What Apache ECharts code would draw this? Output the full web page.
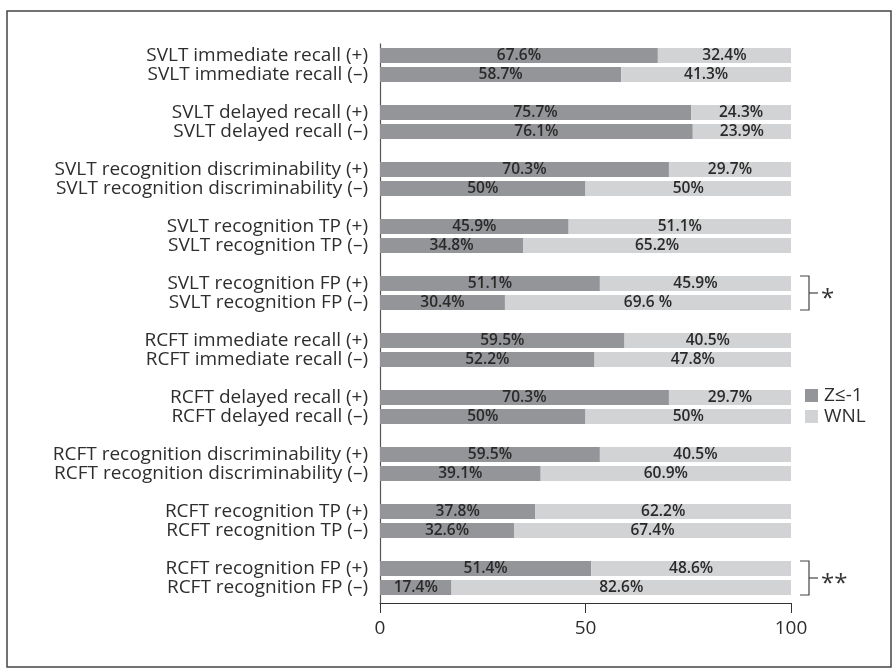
<!DOCTYPE html>
<html>
<head>
<meta charset="utf-8">
<script src="https://cdn.jsdelivr.net/npm/echarts@6/dist/echarts.min.js"></script>
<style>html,body{margin:0;padding:0;background:#fff}#c{width:893px;height:672px}</style>
</head>
<body>
<div id="c"></div>
<script>
const categories = [
  'SVLT immediate recall (+)', 'SVLT immediate recall (–)',
  'SVLT delayed recall (+)', 'SVLT delayed recall (–)',
  'SVLT recognition discriminability (+)', 'SVLT recognition discriminability (–)',
  'SVLT recognition TP (+)', 'SVLT recognition TP (–)',
  'SVLT recognition FP (+)', 'SVLT recognition FP (–)',
  'RCFT immediate recall (+)', 'RCFT immediate recall (–)',
  'RCFT delayed recall (+)', 'RCFT delayed recall (–)',
  'RCFT recognition discriminability (+)', 'RCFT recognition discriminability (–)',
  'RCFT recognition TP (+)', 'RCFT recognition TP (–)',
  'RCFT recognition FP (+)', 'RCFT recognition FP (–)'
];
const darkValues  = [67.6, 58.7, 75.7, 76.1, 70.3, 50, 45.9, 34.8, 53.5, 30.4, 59.5, 52.2, 70.3, 50, 53.5, 39.1, 37.8, 32.6, 51.4, 17.4];
const lightValues = [32.4, 41.3, 24.3, 23.9, 29.7, 50, 54.1, 65.2, 46.5, 69.6, 40.5, 47.8, 29.7, 50, 46.5, 60.9, 62.2, 67.4, 48.6, 82.6];
const darkLabels  = ['67.6%','58.7%','75.7%','76.1%','70.3%','50%','45.9%','34.8%','51.1%','30.4%','59.5%','52.2%','70.3%','50%','59.5%','39.1%','37.8%','32.6%','51.4%','17.4%'];
const lightLabels = ['32.4%','41.3%','24.3%','23.9%','29.7%','50%','51.1%','65.2%','45.9%','69.6 %','40.5%','47.8%','29.7%','50%','40.5%','60.9%','62.2%','67.4%','48.6%','82.6%'];
const legendNames = ['Z≤-1', 'WNL'];
const xTicks = [0, 50, 100];
const significance = [{row: 8, mark: '*'}, {row: 18, mark: '**'}];

// build slots with blank separators between pairs
const slotCats = [], slotIdx = [];
categories.forEach((c, i) => {
  slotCats.push(c); slotIdx.push(i);
  if (i % 2 === 1 && i < categories.length - 1) { slotCats.push(''); slotIdx.push(-1); }
});
const darkData = slotIdx.map(i => i < 0 ? '-' : darkValues[i]);
const lightData = slotIdx.map(i => i < 0 ? '-' : lightValues[i]);

const DARK = '#939598', LIGHT = '#d1d3d4', TXT = '#2e2e2e';
const FONT = '"Open Sans", sans-serif';

const chart = echarts.init(document.getElementById('c'), null, {renderer: 'canvas'});
const gridTop = 46, slot = 19;
chart.setOption({
  animation: false,
  textStyle: {fontFamily: FONT},
  grid: {left: 380, right: 102, top: gridTop, height: slot * slotCats.length, containLabel: false},
  legend: {
    orient: 'vertical', left: 800, top: 381, itemWidth: 13, itemHeight: 13, itemGap: 2,
    icon: 'rect', data: legendNames,
    textStyle: {fontSize: 19, color: TXT, fontFamily: FONT, padding: [0, 0, 0, 1]}
  },
  xAxis: {
    type: 'value', min: 0, max: 100, interval: 50, offset: 6,
    axisLine: {show: true, lineStyle: {color: '#333', width: 1}},
    axisTick: {show: true, length: 10, lineStyle: {color: '#333'}},
    splitLine: {show: false},
    axisLabel: {fontSize: 19, color: TXT, margin: 16, fontFamily: FONT,
      formatter: v => xTicks.includes(v) ? String(v) : ''}
  },
  yAxis: {
    type: 'category', inverse: true, data: slotCats,
    axisLine: {show: false}, axisTick: {show: false},
    axisLabel: {fontSize: 19, color: TXT, margin: 12, interval: 0, fontFamily: FONT}
  },
  series: [
    {
      name: legendNames[0], type: 'bar', stack: 's', barWidth: 15, data: darkData,
      itemStyle: {color: DARK},
      label: {show: true, position: 'inside', color: '#2a2a2a', fontSize: 15.5, fontWeight: 600, fontFamily: FONT,
        formatter: p => slotIdx[p.dataIndex] < 0 ? '' : darkLabels[slotIdx[p.dataIndex]]}
    },
    {
      name: legendNames[1], type: 'bar', stack: 's', barWidth: 15, data: lightData,
      itemStyle: {color: LIGHT},
      label: {show: true, position: 'inside', color: '#2a2a2a', fontSize: 15.5, fontWeight: 600, fontFamily: FONT,
        formatter: p => slotIdx[p.dataIndex] < 0 ? '' : lightLabels[slotIdx[p.dataIndex]]}
    }
  ]
});

// annotations derived from axis scales
const x0 = chart.convertToPixel({xAxisIndex: 0}, 0);
const x100 = chart.convertToPixel({xAxisIndex: 0}, 100);
const yFirst = chart.convertToPixel({yAxisIndex: 0}, 0);
const yLast = chart.convertToPixel({yAxisIndex: 0}, slotCats.length - 1);
const axisY = yLast + slot / 2 + 6;
const els = [
  {type: 'rect', shape: {x: 7, y: 11, width: 884, height: 656}, style: {fill: 'none', stroke: '#444', lineWidth: 1.5}, silent: true},
  {type: 'line', shape: {x1: x0 + 0.5, y1: yFirst - 12, x2: x0 + 0.5, y2: axisY}, style: {stroke: '#555', lineWidth: 1.2}}
];
significance.forEach(s => {
  const slotPos = slotIdx.indexOf(s.row);
  const yTop = chart.convertToPixel({yAxisIndex: 0}, slotPos) - 7.5;
  const yBot = chart.convertToPixel({yAxisIndex: 0}, slotPos + 1) + 7.5;
  const bx = x100 + 18, mid = (yTop + yBot) / 2;
  els.push({type: 'polyline', shape: {points: [[bx - 9, yTop], [bx, yTop], [bx, yBot], [bx - 9, yBot]]}, style: {fill: 'none', stroke: '#444', lineWidth: 1.2}});
  els.push({type: 'line', shape: {x1: bx, y1: mid, x2: bx + 9, y2: mid}, style: {stroke: '#444', lineWidth: 1.2}});
  els.push({type: 'text', x: bx + 12, y: mid + 6, style: {text: s.mark, fontSize: 24, fill: '#333', fontFamily: FONT, textVerticalAlign: 'middle', textAlign: 'left'}});
});
chart.setOption({graphic: {elements: els}});
</script>
</body>
</html>
